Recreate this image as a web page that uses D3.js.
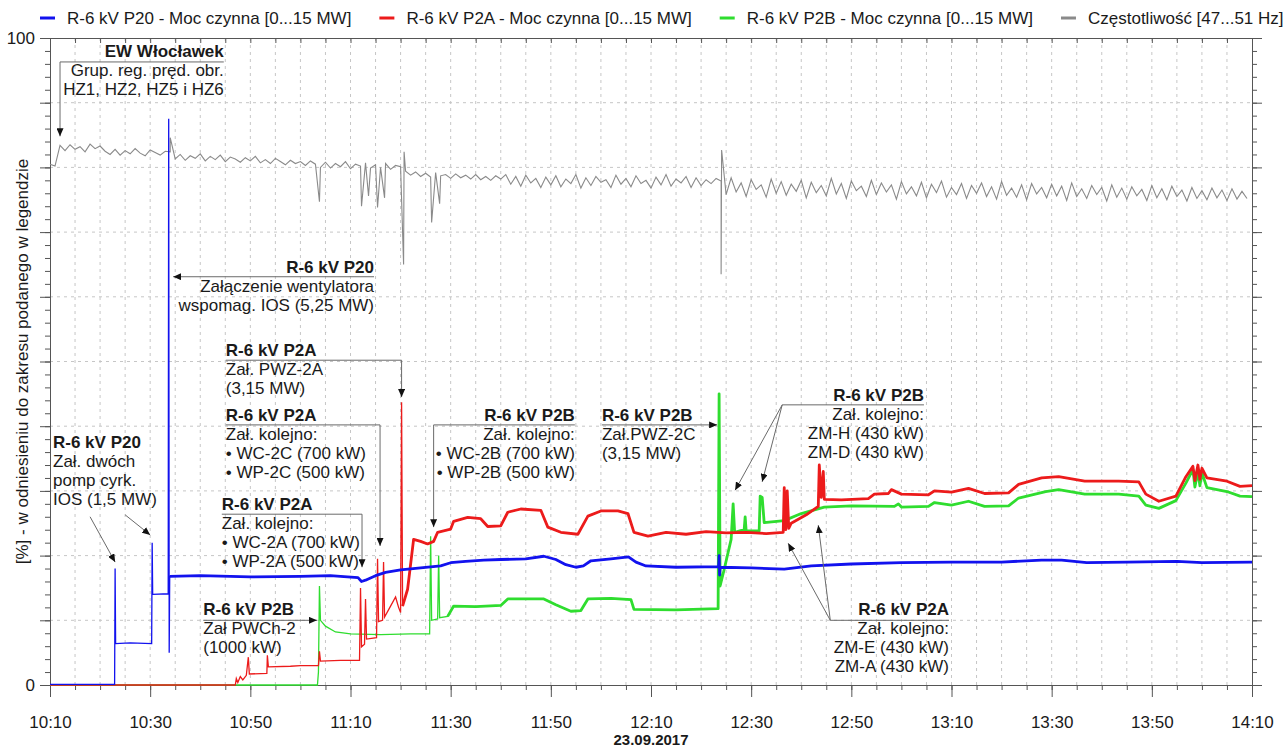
<!DOCTYPE html>
<html>
<head>
<meta charset="utf-8">
<script src="https://cdn.jsdelivr.net/npm/d3@7"></script>
<style>
	body { margin: 0; background: #fff; }
	svg { display: block; font-family: "Liberation Sans", Arial, sans-serif; }
	.grid line { stroke: #c6c6c6; stroke-dasharray: 3, 4; }
	.axis path, .axis line { stroke: #555; }
	.axis text { font-size: 17px; fill: #1a1a1a; }
	.note text { font-size: 17px; fill: #1a1a1a; }
	.note .title { font-weight: bold; }
	.note path { fill: none; stroke: #6a6a6a; stroke-width: 1; }
	.legend text { font-size: 17px; fill: #1a1a1a; }
</style>
</head>
<body>
<svg id="chart" width="1285" height="747"></svg>
<script>
// minutes after 10:10, value in % of range
var p20 = [[0,0.1],[12.9,0.1],[13.0,18.0],[13.1,6.4],[16,6.5],[20.3,6.4],[20.4,22.0],[20.5,14.0],[23.6,14.1],
	[23.7,87.5],[23.8,5.0],[23.9,16.8],[30,16.9],[40,16.7],[50,16.8],[56,16.9],[58,16.8],[61.5,16.6],[62.2,16.0],
	[63,16.2],[65,16.9],[67,17.4],[70,17.8],[74,18.1],[78,18.4],[80,18.9],[83,19.1],[86.6,19.3],[90,19.4],[95,19.5],
	[98.6,19.9],[101,19.4],[103,18.6],[105,18.2],[106.5,18.4],[108,19.2],[112,19.5],[115.5,19.8],[117,19.0],
	[119,18.4],[125,18.2],[133.5,18.3],[133.6,20.0],[133.7,17.0],[133.8,18.2],[140,18.1],[146.6,17.9],[152,18.4],
	[160,18.7],[170,18.9],[180,19.0],[190,19.0],[198,19.3],[202,19.3],[207,18.9],[215,19.0],[225,19.1],[230,18.9],[240,19.0]];

var p2a = [[0,0],[37,0],[37.2,1.0],[37.5,0.4],[38.0,1.3],[38.5,0.8],[39.2,1.5],[39.6,4.3],[39.8,1.7],[43.3,1.8],
	[43.4,4.6],[43.6,2.8],[48,2.9],[50,3.0],[53.6,3.0],[53.8,5.2],[54.0,3.7],[58,3.8],[61.8,3.8],[62.0,15.0],
	[62.2,5.9],[62.8,6.3],[63.0,13.3],[63.2,7.1],[65.2,7.3],[65.4,19.5],[65.6,9.8],[66.4,10.0],[66.6,19.0],
	[66.8,10.5],[68,12.2],[69,13.6],[69.6,12.0],[70.0,11.2],[70.2,43.7],[70.4,12.2],[71.4,14.8],[72.6,22.5],
	[74,22.2],[75.4,21.8],[76.6,22.2],[77.4,23.6],[80,24.1],[80.6,25.3],[83.4,25.9],[86,25.7],[87.4,24.5],
	[90,24.6],[91.4,26.7],[94,27.2],[98,27.0],[99.4,24.4],[102,23.6],[105.4,23.3],[107.4,26.1],[110,26.9],
	[113.4,26.9],[115.4,26.5],[116.6,23.6],[119.4,23.0],[123,23.6],[127,23.3],[131,23.7],[135,23.5],[139,23.6],
	[143,23.4],[146.4,23.6],[146.6,30.5],[146.9,24.0],[147.2,30.0],[147.5,24.2],[148,25.0],[151,26.3],
	[153.4,27.6],[153.6,34.0],[154.0,29.0],[154.4,33.0],[154.6,28.7],[158,28.6],[163.4,28.8],[164.6,29.5],
	[167.4,29.6],[168,30.2],[170,29.5],[175.4,29.4],[176.6,30.0],[180,29.8],[183.4,30.4],[186.6,29.6],
	[191.4,29.7],[193.4,31.0],[198,32.0],[201.4,32.2],[206.6,31.5],[213.4,31.5],[217.4,31.4],[218.8,29.5],
	[221.4,28.4],[224.8,29.2],[226.8,32.2],[228.2,33.8],[228.6,31.6],[229.2,34.0],[229.6,31.8],[230,33.5],
	[231,32.0],[235,31.5],[237.6,30.7],[240,30.8]];

var p2b = [[0,0],[53.4,0],[53.6,2.0],[53.8,15.3],[54.0,10.0],[55,9.1],[57,8.2],[60,7.9],[66,7.8],[72,7.9],
	[75.8,7.9],[76.0,23.0],[76.2,10.0],[77.4,10.2],[77.6,20.0],[77.8,10.4],[79.4,10.6],[80.6,12.2],[85,12.1],
	[90,12.3],[91.4,13.3],[98.6,13.3],[101,12.4],[104,11.4],[106,11.5],[107.4,13.3],[112,13.4],[116,13.2],
	[116.6,11.7],[125,11.6],[133.4,11.8],[133.6,45.0],[133.8,15.3],[134.5,17.5],[136,22.5],[136.4,28.0],
	[136.7,23.6],[138.6,24.0],[138.8,26.0],[139.0,23.8],[141.6,23.8],[141.8,29.2],[142.2,29.0],[142.6,25.1],
	[146.6,25.4],[150,26.5],[154.6,27.5],[160,27.7],[168.6,27.6],[169.4,28.0],[170,27.5],[175.4,27.6],
	[176.6,28.2],[180,27.8],[183.4,28.4],[186.6,27.6],[191.4,27.7],[193.4,28.9],[198.8,29.9],[201.4,30.2],
	[206.6,29.5],[213.4,29.5],[217.4,29.2],[218.8,27.8],[221.4,27.3],[224.8,28.5],[226.8,31.2],[228.2,33.3],
	[228.6,30.6],[229.2,33.0],[229.6,30.8],[230,32.8],[231,30.5],[235,29.9],[237.6,29.2],[240,29.1]];

// frequency, one reading per minute from 10:10
var freq = [80.5,80.2,83.4,82.6,83.5,82.8,83.2,82.4,83.6,82.9,
	83.3,82.5,82.0,82.8,81.9,82.6,82.1,82.9,82.2,81.8,
	82.7,82.3,81.9,82.5,82.4,81.3,82.0,81.1,81.8,81.4,
	82.1,81.0,81.7,81.2,81.9,80.9,81.6,81.3,80.8,81.5,
	81.0,81.7,80.7,81.2,80.6,81.4,80.9,80.4,81.1,80.6,
	80.9,80.3,81.0,80.5,80.0,80.8,79.9,80.6,80.1,80.9,
	79.8,80.5,80.2,80.7,79.9,80.4,80.0,80.6,79.7,80.3,
	80.1,79.4,78.8,79.3,78.6,79.1,78.5,79.2,78.7,78.9,
	78.3,79.0,78.4,78.8,78.2,78.9,78.1,78.6,78.0,78.7,
	78.2,78.9,77.4,78.6,77.1,78.8,77.6,78.3,76.9,78.5,
	77.3,78.7,77.0,78.2,77.5,78.9,76.8,78.4,77.2,78.6,
	77.7,78.1,76.9,78.8,77.4,78.3,77.0,78.7,77.5,78.0,
	76.8,78.5,77.3,78.9,77.1,78.2,77.6,78.6,76.9,78.4,
	77.2,78.1,77.5,78.3,77.9,75.8,78.4,76.2,77.6,75.5,
	78.1,76.6,77.3,75.4,78.2,76.0,77.8,75.7,77.4,76.3,
	78.0,75.3,77.7,76.1,77.2,75.6,78.3,75.9,77.5,75.2,
	77.9,76.4,77.1,75.5,78.0,75.8,77.6,76.2,77.3,75.1,
	77.8,75.9,77.0,75.6,77.7,75.3,77.4,76.1,77.9,75.4,
	76.9,75.8,77.5,75.2,77.2,76.0,77.6,75.5,77.0,75.1,
	77.8,75.7,76.8,75.4,77.3,75.0,77.5,75.9,76.9,75.3,
	77.4,75.6,77.1,74.9,77.6,75.5,76.7,75.2,77.2,75.8,
	76.9,74.8,77.3,75.4,76.8,75.1,77.0,75.6,76.6,74.9,
	77.2,75.3,76.7,75.0,77.1,75.5,76.5,74.8,76.9,75.2,
	76.4,75.0,76.8,75.3,76.5,74.9,76.7,75.1,76.3,75.2];

var freqSpikes = [[24.0,84.6],[53.8,74.7],[62.2,74.0],[63.6,75.6],[65.4,73.8],[66.8,75.3],[70.6,65.0],
	[70.7,82.4],[76.2,71.5],[77.8,74.4],[134.0,63.5],[134.1,82.7]];

// labelled ticks, minutes after 10:10
var labelMinutes = [0, 20, 40, 60, 80, 100, 120, 140, 160, 180, 200, 220, 240];

var legendLabels = [
	"R-6 kV P20 - Moc czynna [0...15 MW]",
	"R-6 kV P2A - Moc czynna [0...15 MW]",
	"R-6 kV P2B - Moc czynna [0...15 MW]",
	"Częstotliwość [47...51 Hz]"
];
var colours = ["#1212ee", "#ec1b1b", "#2fdd2f", "#8a8a8a"];
var yTitle = "[%] - w odniesieniu do zakresu podanego w legendzie";
var dateLabel = "23.09.2017";

var notes = [
	{ t: 34.7, v: 97.1, anchor: "end", title: "EW Włocławek",
		lines: ["Grup. reg. pręd. obr.", "HZ1, HZ2, HZ5 i HZ6"],
		paths: [[[34.7, 96.3], [2.0, 96.3], [2.0, 84.8]]] },
	{ t: 64.7, v: 63.7, anchor: "end", title: "R-6 kV P20",
		lines: ["Załączenie wentylatora", "wspomag. IOS (5,25 MW)"],
		paths: [[[64.7, 63.1], [24.6, 63.1]]] },
	{ t: 35.1, v: 50.9, anchor: "start", title: "R-6 kV P2A",
		lines: ["Zał. PWZ-2A", "(3,15 MW)"],
		paths: [[[35.1, 50.2], [70.2, 50.2], [70.2, 44.5]]] },
	{ t: 35.1, v: 40.8, anchor: "start", title: "R-6 kV P2A",
		lines: ["Zał. kolejno:", "• WC-2C (700 kW)", "• WP-2C (500 kW)"],
		paths: [[[35.1, 40.2], [65.9, 40.2], [65.9, 21.5]]] },
	{ t: 34.3, v: 27.0, anchor: "start", title: "R-6 kV P2A",
		lines: ["Zał. kolejno:", "• WC-2A (700 kW)", "• WP-2A (500 kW)"],
		paths: [[[34.3, 26.4], [62.3, 26.4], [62.3, 18.2]]] },
	{ t: 30.6, v: 10.8, anchor: "start", title: "R-6 kV P2B",
		lines: ["Zał PWCh-2", "(1000 kW)"],
		paths: [[[30.6, 10.0], [53.3, 10.0]]] },
	{ t: 104.8, v: 40.8, anchor: "end", title: "R-6 kV P2B",
		lines: ["Zał. kolejno:", "• WC-2B (700 kW)", "• WP-2B (500 kW)"],
		paths: [[[104.8, 40.2], [76.6, 40.2], [76.6, 24.4]]] },
	{ t: 110.2, v: 40.8, anchor: "start", title: "R-6 kV P2B",
		lines: ["Zał.PWZ-2C", "(3,15 MW)"],
		paths: [[[110.2, 40.2], [133.2, 40.2]]] },
	{ t: 174.5, v: 43.9, anchor: "end", title: "R-6 kV P2B",
		lines: ["Zał. kolejno:", "ZM-H (430 kW)", "ZM-D (430 kW)"],
		rule: [[174.5, 43.3], [146.2, 43.3]],
		paths: [[[146.2, 43.3], [136.8, 30.1]], [[146.2, 43.3], [142.2, 31.4]]] },
	{ t: 179.5, v: 10.8, anchor: "end", title: "R-6 kV P2A",
		lines: ["Zał. kolejno:", "ZM-E (430 kW)", "ZM-A (430 kW)"],
		rule: [[179.5, 10.0], [155.8, 10.0]],
		paths: [[[155.8, 10.0], [147.4, 21.9]], [[155.8, 10.0], [153.4, 24.7]]] },
	{ t: 0.6, v: 36.6, anchor: "start", title: "R-6 kV P20",
		lines: ["Zał. dwóch", "pomp cyrk.", "IOS (1,5 MW)"],
		paths: [[[8.0, 26.0], [13.0, 19.0]], [[15.0, 26.3], [20.0, 23.2]]] }
];

var thickFrom = [23.9, 70.4, 79];

var svg = d3.select("#chart");
var t0 = new Date(2017, 8, 23, 10, 10);
function toTime(m) {
	return new Date(t0.getTime() + m * 60000);
}

var x = d3.scaleTime().domain([toTime(0), toTime(240)]).range([50, 1252]);
var y = d3.scaleLinear().domain([0, 100]).range([685, 38]);

// arrow head
svg.append("defs")
	.append("marker")
	.attr("id", "arrow")
	.attr("viewBox", "0 0 8 7")
	.attr("refX", 8)
	.attr("refY", 3.5)
	.attr("markerWidth", 8)
	.attr("markerHeight", 7)
	.attr("markerUnits", "userSpaceOnUse")
	.attr("orient", "auto")
	.append("path")
	.attr("d", "M0,0L8,3.5L0,7Z")
	.attr("fill", "#111");

// grid
var grid = svg.append("g").classed("grid", true);
grid.selectAll(".vx")
	.data(x.ticks(d3.timeMinute.every(5)).slice(1, -1))
	.enter()
	.append("line")
	.attr("x1", d => x(d))
	.attr("x2", d => x(d))
	.attr("y1", y(0))
	.attr("y2", y(100));
grid.selectAll(".hy")
	.data(d3.range(10, 100, 10))
	.enter()
	.append("line")
	.attr("x1", x.range()[0])
	.attr("x2", x.range()[1])
	.attr("y1", d => y(d))
	.attr("y2", d => y(d));

// axes
var every5 = d3.timeMinute.every(5);
svg.append("g").classed("axis", true)
	.attr("transform", "translate(0," + y(0) + ")")
	.call(d3.axisBottom(x).ticks(every5).tickSize(5).tickFormat(""));
svg.append("g").classed("axis", true)
	.attr("transform", "translate(0," + y(0) + ")")
	.call(d3.axisBottom(x).tickValues(labelMinutes.map(toTime)).tickSize(12).tickPadding(19)
		.tickFormat(d3.timeFormat("%H:%M")));
svg.append("g").classed("axis", true)
	.attr("transform", "translate(0," + y(100) + ")")
	.call(d3.axisBottom(x).ticks(every5).tickSize(5).tickFormat(""));

svg.append("g").classed("axis", true)
	.attr("transform", "translate(" + x.range()[0] + ",0)")
	.call(d3.axisLeft(y).tickValues(d3.range(0, 101, 2)).tickSize(5).tickFormat(""));
svg.append("g").classed("axis", true)
	.attr("transform", "translate(" + x.range()[0] + ",0)")
	.call(d3.axisLeft(y).tickValues(d3.range(0, 101, 10)).tickSize(10).tickPadding(5)
		.tickFormat(d => (d === 0 || d === 100 ? d : "")));
svg.append("g").classed("axis", true)
	.attr("transform", "translate(" + x.range()[1] + ",0)")
	.call(d3.axisRight(y).tickValues(d3.range(0, 101, 2)).tickSize(5).tickFormat(""));
svg.append("g").classed("axis", true)
	.attr("transform", "translate(" + x.range()[1] + ",0)")
	.call(d3.axisRight(y).tickValues(d3.range(0, 101, 10)).tickSize(10).tickFormat(""));

svg.append("text")
	.attr("transform", "translate(22," + (y(50)) + ") rotate(-90)")
	.attr("text-anchor", "middle")
	.attr("dy", "0.35em")
	.style("font-size", "17px")
	.style("fill", "#1a1a1a")
	.text(yTitle);

svg.append("text")
	.attr("x", x(toTime(120)))
	.attr("y", 745)
	.attr("text-anchor", "middle")
	.style("font-size", "15px")
	.style("font-weight", "bold")
	.style("fill", "#1a1a1a")
	.text(dateLabel);

// series
var line = d3.line()
	.x(d => x(toTime(d[0])))
	.y(d => y(d[1]));

var freqSeries = freq.map((v, i) => [i, v]).concat(freqSpikes).sort((a, b) => a[0] - b[0]);

var lines = svg.append("g");
lines.append("path")
	.datum(freqSeries)
	.attr("d", line)
	.attr("fill", "none")
	.attr("stroke", colours[3])
	.attr("stroke-width", 1.1);

[p2b, p2a, p20].forEach(function(s, k) {
	var i = 2 - k;
	lines.append("path")
		.datum(s)
		.attr("d", line)
		.attr("fill", "none")
		.attr("stroke", colours[i])
		.attr("stroke-width", 1.3);
	lines.append("path")
		.datum(s.filter(d => d[0] >= thickFrom[i]))
		.attr("d", line)
		.attr("fill", "none")
		.attr("stroke", colours[i])
		.attr("stroke-width", 2.8)
		.attr("stroke-linejoin", "round");
});

// annotations
notes.forEach(function(n) {
	var g = svg.append("g").classed("note", true);
	var tx = x(toTime(n.t)),
		ty = y(n.v);
	if (n.rule) g.append("path").attr("d", line(n.rule));
	n.paths.forEach(function(p) {
		g.append("path").attr("d", line(p)).attr("marker-end", "url(#arrow)");
	});
	g.append("text")
		.classed("title", true)
		.attr("x", tx)
		.attr("y", ty)
		.attr("text-anchor", n.anchor)
		.text(n.title);
	n.lines.forEach(function(s, i) {
		g.append("text")
			.attr("x", tx)
			.attr("y", ty + 19 * (i + 1))
			.attr("text-anchor", n.anchor)
			.text(s);
	});
});

// legend
var legend = svg.append("g").classed("legend", true);
var lx = 40;
legendLabels.forEach(function(label, i) {
	legend.append("line")
		.attr("x1", lx)
		.attr("x2", lx + 15)
		.attr("y1", 18)
		.attr("y2", 18)
		.attr("stroke", colours[i])
		.attr("stroke-width", 3);
	var t = legend.append("text")
		.attr("x", lx + 27)
		.attr("y", 24)
		.text(label);
	lx = lx + 27 + t.node().getComputedTextLength() + 28;
});
</script>
</body>
</html>
